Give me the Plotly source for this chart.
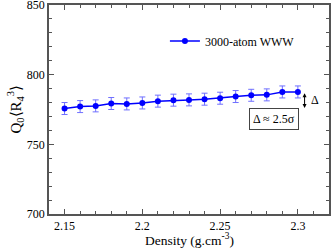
import plotly.graph_objects as go

density = [2.15, 2.16, 2.17, 2.18, 2.19, 2.20, 2.21, 2.22, 2.23, 2.24, 2.25, 2.26, 2.27, 2.28, 2.29, 2.30]
q_values = [775.7, 777.1, 777.6, 779.3, 779.0, 779.7, 781.0, 781.7, 781.9, 782.4, 783.1, 784.3, 785.2, 785.5, 787.6, 787.6]
q_errors = [4.3, 4.3, 4.3, 4.3, 4.3, 4.3, 4.3, 4.3, 4.3, 4.3, 4.3, 4.3, 4.3, 4.3, 4.3, 4.3]
series_name = "3000-atom WWW"
x_ticks = [2.15, 2.2, 2.25, 2.3]
x_ticktext = ["2.15", "2.2", "2.25", "2.3"]
y_ticks = [700, 750, 800, 850]

font_family = "Liberation Serif"

fig = go.Figure()
fig.add_trace(go.Scatter(
    x=density, y=q_values, name=series_name, mode="lines+markers",
    line=dict(color="#0000ff", width=1.5),
    marker=dict(color="#0000ff", size=6),
    error_y=dict(type="data", array=q_errors, color="#6f6fff", thickness=1, width=3),
))

axis_common = dict(
    showline=True, linecolor="#555555", linewidth=1.5, mirror="ticks",
    ticks="inside", ticklen=5, tickcolor="#555555", tickwidth=1,
    showgrid=False, zeroline=False, automargin=False,
    ticklabeloverflow="allow",
    tickfont=dict(family=font_family, size=12, color="black"),
)

fig.update_layout(
    width=332, height=249,
    margin=dict(l=49, r=3, t=5, b=35),
    plot_bgcolor="white", paper_bgcolor="white",
    font=dict(family=font_family, color="black"),
    showlegend=True,
    legend=dict(x=0.414, y=0.897, xanchor="left", yanchor="top",
                bgcolor="rgba(0,0,0,0)", font=dict(family=font_family, size=12),
                tracegroupgap=0),
    xaxis=dict(range=[2.14, 2.32], tickvals=x_ticks, ticktext=x_ticktext,
               minor=dict(dtick=0.01, ticks="inside", ticklen=3, tickcolor="#555555"),
               **axis_common),
    yaxis=dict(range=[700, 850], tickvals=y_ticks,
               minor=dict(dtick=10, ticks="inside", ticklen=3, tickcolor="#555555"),
               **axis_common),
)

fig.add_annotation(x=0.5, y=0, xref="paper", yref="paper", yshift=-25, yanchor="middle",
                   text="Density (g.cm<sup>-3</sup>)", showarrow=False,
                   font=dict(family=font_family, size=13.5))
fig.add_annotation(x=0, y=0.5, xref="paper", yref="paper", xshift=-34, xanchor="center",
                   text="Q<sub>0</sub>⟨R<sub>4</sub><sup>3</sup>⟩", showarrow=False, textangle=-90,
                   font=dict(family=font_family, size=15))

fig.add_annotation(x=2.3043, y=776.0, ax=2.3043, ay=787.8, xref="x", yref="y", axref="x", ayref="y",
                   text="", showarrow=True, arrowhead=2, arrowside="end+start", arrowsize=0.8,
                   arrowwidth=1, arrowcolor="black")
fig.add_annotation(x=2.307, y=781.5, xref="x", yref="y", text="Δ", showarrow=False,
                   font=dict(family=font_family, size=12), xanchor="left")
fig.add_annotation(x=2.2846, y=767.9, xref="x", yref="y", text="Δ ≈ 2.5σ", showarrow=False,
                   font=dict(family=font_family, size=12), bordercolor="#444444", borderwidth=1,
                   borderpad=3, bgcolor="white")

fig.write_html("out.html", config={"displayModeBar": False},
               post_script="document.body.style.margin='0';")
